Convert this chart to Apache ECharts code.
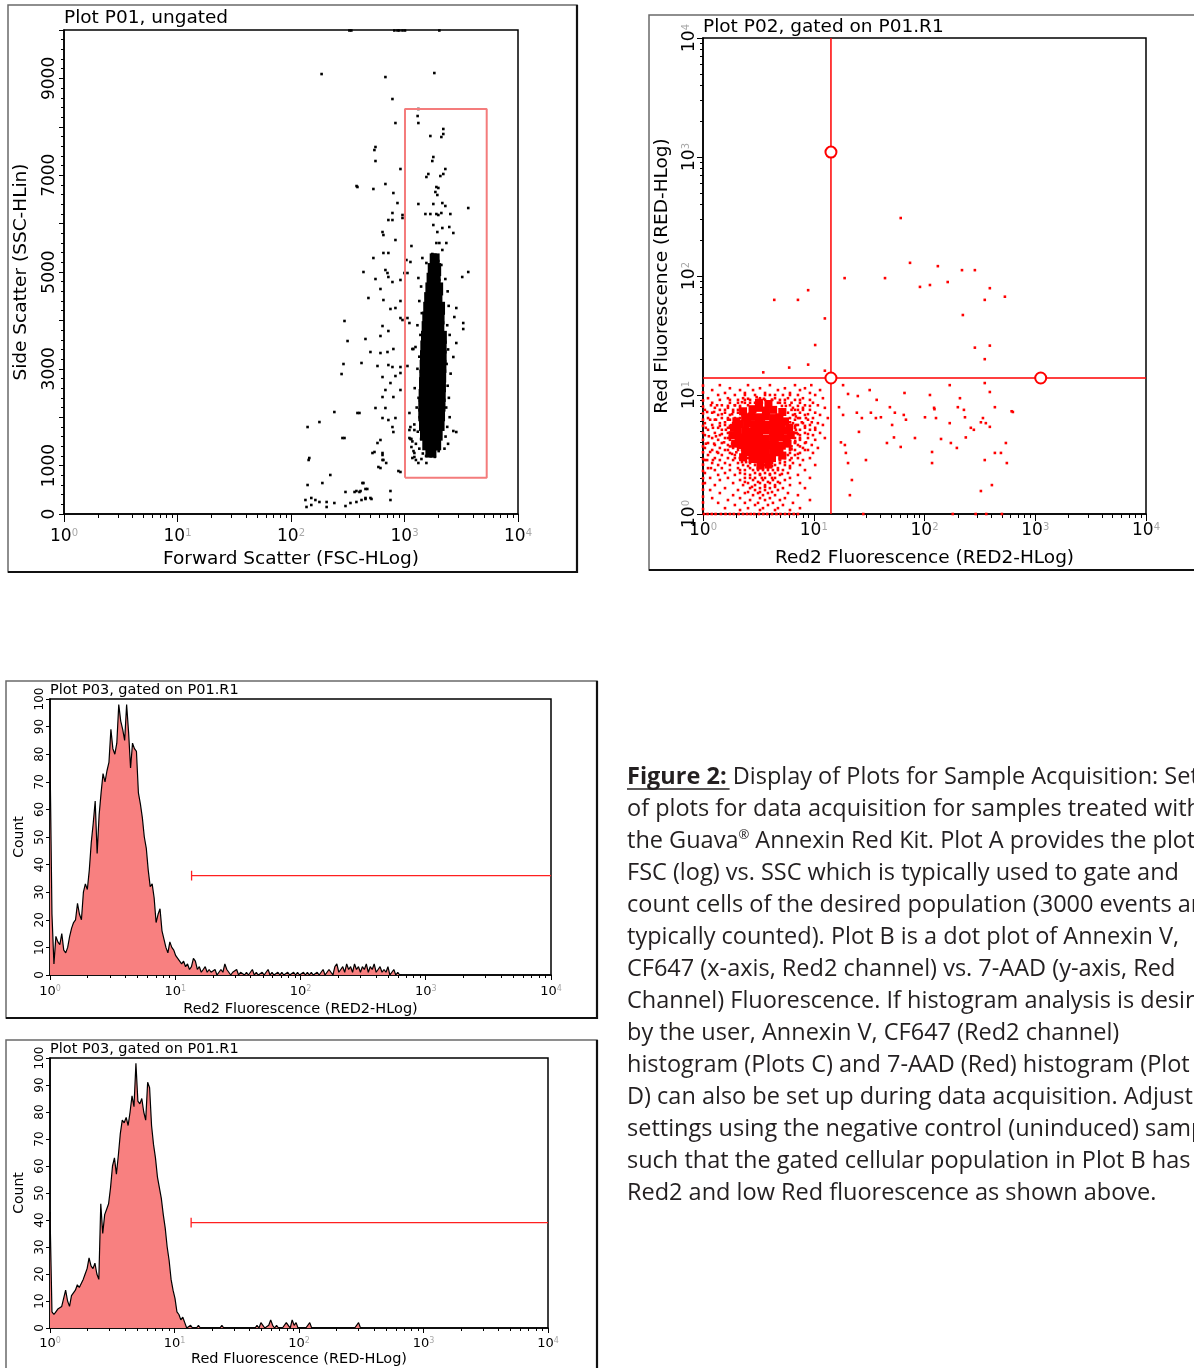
<!DOCTYPE html>
<html><head><meta charset="utf-8">
<script src="https://cdn.jsdelivr.net/npm/echarts@6/dist/echarts.min.js"></script>
<style>html,body{margin:0;padding:0;background:#fff;}#c{width:1194px;height:1368px;}</style>
</head><body><div id="c"></div>
<script>
// ---------------- DATA ----------------
// Plot A: FSC (log) vs SSC (lin); dense core of events (drawn with larger marks)
const FSC_SSC_CORE = [
[1790,5250],[1900,5250],
[1720,5050],[1850,5050],[1960,5050],
[1680,4850],[1810,4850],[1940,4850],
[1640,4650],[1770,4650],[1900,4650],[2040,4650],
[1600,4450],[1730,4450],[1870,4450],[2010,4450],
[1570,4250],[1700,4250],[1840,4250],[1990,4250],[2120,4250],
[1540,4050],[1670,4050],[1810,4050],[1960,4050],[2100,4050],
[1520,3850],[1650,3850],[1790,3850],[1940,3850],[2090,3850],
[1500,3650],[1630,3650],[1770,3650],[1920,3650],[2070,3650],[2200,3650],
[1480,3450],[1610,3450],[1750,3450],[1900,3450],[2050,3450],[2190,3450],
[1470,3250],[1600,3250],[1740,3250],[1890,3250],[2040,3250],[2190,3250],
[1460,3050],[1590,3050],[1730,3050],[1880,3050],[2030,3050],[2180,3050],
[1450,2850],[1580,2850],[1720,2850],[1870,2850],[2020,2850],[2170,2850],
[1440,2650],[1570,2650],[1710,2650],[1860,2650],[2010,2650],[2160,2650],
[1430,2450],[1560,2450],[1700,2450],[1850,2450],[2000,2450],[2150,2450],
[1420,2250],[1550,2250],[1690,2250],[1840,2250],[1990,2250],[2140,2250],
[1420,2050],[1550,2050],[1690,2050],[1840,2050],[1990,2050],[2120,2050],
[1440,1850],[1570,1850],[1710,1850],[1860,1850],[2000,1850],[2100,1850],
[1470,1650],[1600,1650],[1740,1650],[1890,1650],[2020,1650],
[1540,1450],[1680,1450],[1830,1450],[1960,1450],
[1640,1300],[1780,1300]
];
// Plot A: individual events
const FSC_SSC_DOTS = [
[1325,8368],[1305,8223],[1325,8078],[1690,7810],[2198,7955],[2198,7851],[2112,7789],[1795,7376],[1758,7293],[2290,7128],[2198,7025],[2070,6983],[1622,7025],[1559,6963],[1909,6756],[1987,6736],[1871,6653],[1947,6591],[1325,6405],[1795,6405],[2155,6425],[2290,6364],[3645,6322],[1528,6198],[1690,6198],[1909,6198],[1987,6178],[2112,6219],[2535,6198],[1795,5971],[2155,5909],[2480,5930],[1947,5826],[2693,5806],[1909,5599],[2028,5599],[2155,5455],[2337,5599],[1758,5372],[1151,5537],[1040,5248],[1128,5207],[1437,5289],[1559,5186],[1871,5145],[2112,5145],[1987,5227],[998,4979],[1062,4979],[1325,4876],[1656,4835],[2028,4835],[2290,4855],[3226,4897],[3645,5000],
[2860,4256],[2748,4070],[3293,3946],[3293,3822],[2860,3533],[2693,3244],[2693,1715],[2860,1694],
[2400,4600],[2450,4300],[2380,3900],[2500,3700],[2420,3400],[2350,3100],[2550,2900],[2400,2650],[2460,2400],[2330,2200],[2500,2000],[2380,1800],[2300,1600],[2420,1450],[2250,1350],
[1400,4700],[1350,4400],[1420,4150],[1300,3900],[1380,3700],[1250,3450],[1350,3250],[1300,3000],[1380,2800],[1230,2600],[1330,2400],[1280,2200],[1360,2000],[1220,1850],[1310,1700],[1400,1550],[1260,1450],[1350,1350],[1450,1250],[1550,1200],[1700,1230],[1850,1180],[2000,1300],[1200,1300],[1150,1550],
[1062,4049],[1105,3946],[1197,3409],[1173,3409],[1062,3058],[1222,1735],[1105,1735],[1151,1384],[1222,1178],[1410,1136],[1559,1054],
[1105,2087],[1128,1797],[1105,1570],[1128,1550],[1173,1500],[1222,1260],[1173,1157],[1260,1116],[1325,1054],
[783,8574],[832,8078],[555,7583],[555,7293],[921,7128],[385,6756],[532,6715],[679,6818],[798,6632],[867,6425],[783,6219],[721,6074],[783,6074],[960,6178],[960,6116],[640,5826],[652,5764],[832,5661],[652,5393],[721,5393],[532,5289],[435,5000],[679,5041],[708,4979],[555,4855],[721,4897],[783,4793],[921,4835],[614,4649],[481,4463],[652,4421],[921,4401],[752,4236],[832,4256],[921,4049],[960,4008],[640,3884],[721,3781],[453,3616],[614,3678],[296,3988],[315,3574],[501,3347],[614,3326],[708,3347],[798,3409],[418,3120],[578,3058],[721,3078],[783,3037],[921,3037],[290,3099],[279,2892],[640,2830],[832,2851],[921,2913],[752,2706],[679,2562],[640,2417],[798,2417],[921,2562],[555,2190],[679,2190],[640,1983],[721,1942],[783,1797],[832,1983],[284,1570],[385,2087],[614,1529],[578,1467],[522,1260],[640,1260],[652,1116],[589,971],[884,888],[798,1694],
[186,9090],[679,9028],[1832,9111],[378,6776],[543,7520],
[327,9990],[340,9990],[814,9990],[867,9990],[900,9990],[960,9990],[1010,9990],[2028,9990],
[140,1797],[178,1900],[241,2107],[401,2087],[296,1570],[145,1157],[143,1116],[544,1281],[640,1219],[640,1116],[690,1054],[614,950],[921,868],[222,806],[140,599],[189,640],[435,640],[302,455],[377,475],[410,475],[470,517],[752,475],[752,289],[134,289],[151,331],[164,289],[178,248],[206,248],[241,227],[137,145],[151,186],[206,145],[302,165],[334,227],[377,248],[418,289],[453,310],[512,310],[426,640],[363,455],[401,455],[453,517],[501,331],[453,331]
];
const GATE_R1 = [[1010,750],[5300,750],[5300,8370],[1010,8370],[1010,750]];
const SSC_LABELS = [0,1000,3000,5000,7000,9000];

// Plot B: Red2 (log) vs Red (log); densest part of the population
const RED2_RED_CORE = [
[2.8,7.6],[3.2,7.8],[3.7,7.4],[4.3,7.5],
[2.4,6.5],[2.75,6.6],[3.2,6.5],[3.7,6.6],[4.3,6.4],[4.9,6.5],
[2.15,5.7],[2.5,5.8],[2.9,5.7],[3.35,5.7],[3.85,5.6],[4.45,5.7],[5.1,5.6],
[2.05,5.0],[2.4,5.0],[2.75,4.95],[3.2,5.0],[3.7,5.05],[4.3,5.0],[4.95,4.95],[5.6,5.0],
[2.1,4.35],[2.4,4.4],[2.75,4.35],[3.2,4.35],[3.7,4.3],[4.3,4.35],[4.95,4.4],[5.7,4.3],
[2.2,3.8],[2.5,3.8],[2.9,3.75],[3.35,3.8],[3.85,3.8],[4.45,3.8],[5.15,3.75],
[2.4,3.3],[2.8,3.3],[3.2,3.3],[3.7,3.3],[4.3,3.35],[4.9,3.3],
[2.8,2.9],[3.25,2.9],[3.7,2.9],[4.2,2.95],
[2.0,6.0],[1.9,5.3],[1.85,4.6],[1.95,3.9],[5.5,6.0],[6.0,5.3],[6.2,4.6],[5.8,3.9],[2.3,7.3],[5.2,7.2],[2.3,3.0],[5.2,3.1],[3.2,8.6],[3.9,8.4],[3.3,2.55],[3.9,2.6]
];
const RED2_RED_DOTS = [
[1.42,12.1],[2.55,12.1],[4.02,12.1],[6.77,12.1],[9.5,12.1],
[1.75,11.4],[3.27,11.4],[5.49,11.4],[8.33,11.4],
[1.21,11],[2.16,11],[2.83,11],[4.75,11],[7.51,11],[11.4,11],
[1.58,10.4],[2.39,10.4],[3.63,10.4],[6.1,10.4],[9.24,10.4],
[1.37,10],[1.94,10],[2.95,10],[4.02,10],[5.27,10],[7.2,10],[10.3,10],
[1.11,9.4],[1.68,9.4],[2.3,9.4],[3.27,9.4],[4.47,9.4],[5.85,9.4],[7.99,9.4],[12.1,9.4],
[1.42,9.1],[2.07,9.1],[2.66,9.1],[3.63,9.1],[4.95,9.1],[6.77,9.1],[9.24,9.1],
[1.21,8.6],[1.75,8.6],[2.39,8.6],[2.95,8.6],[4.02,8.6],[5.49,8.6],[7.51,8.6],[9.84,8.6],
[1.48,8.2],[1.94,8.2],[2.55,8.2],[6.1,8.2],[8.33,8.2],[10.9,8.2],
[1.28,7.8],[1.68,7.8],[2.16,7.8],[6.49,7.8],[7.99,7.8],[12.6,7.8],
[1.04,7.5],[1.42,7.5],[1.87,7.5],[2.39,7.5],[5.49,7.5],[7.2,7.5],[9.24,7.5],
[1.21,7.1],[1.58,7.1],[2.07,7.1],[5.85,7.1],[7.51,7.1],[10.3,7.1],
[1.37,6.8],[1.75,6.8],[6.49,6.8],[8.33,6.8],[11.4,6.8],
[1.11,6.4],[1.48,6.4],[1.94,6.4],[6.1,6.4],[7.51,6.4],[9.84,6.4],[13.4,6.4],
[1.28,6.2],[1.68,6.2],[6.77,6.2],[8.87,6.2],
[1.04,5.8],[1.42,5.8],[1.87,5.8],[6.49,5.8],[7.99,5.8],[10.9,5.8],
[1.21,5.6],[1.58,5.6],[7.2,5.6],[9.24,5.6],[12.1,5.6],
[1.37,5.3],[1.75,5.3],[6.77,5.3],[8.33,5.3],[10.3,5.3],
[1.11,5.1],[1.48,5.1],[7.51,5.1],[9.24,5.1],
[1.28,4.8],[1.68,4.8],[6.77,4.8],[8.33,4.8],[11.4,4.8],
[1.04,4.6],[1.42,4.6],[7.51,4.6],[9.84,4.6],
[1.21,4.35],[1.58,4.35],[6.77,4.35],[8.87,4.35],[12.6,4.35],
[1.37,4.2],[1.75,4.2],[7.51,4.2],[10.3,4.2],
[1.11,3.95],[1.48,3.95],[1.87,3.95],[6.77,3.95],[8.33,3.95],
[1.28,3.8],[1.68,3.8],[7.2,3.8],[9.6,3.8],
[1.04,3.59],[1.42,3.59],[1.87,3.59],[6.1,3.59],[7.99,3.59],[10.9,3.59],
[1.21,3.45],[1.58,3.45],[2.07,3.45],[6.77,3.45],[8.87,3.45],
[1.37,3.26],[1.75,3.26],[2.3,3.26],[6.1,3.26],[7.51,3.26],[9.84,3.26],
[1.11,3.13],[1.48,3.13],[1.94,3.13],[5.49,3.13],[6.77,3.13],
[1.28,2.95],[1.68,2.95],[2.16,2.95],[2.55,2.95],[5.49,2.95],[7.2,2.95],[9.24,2.95],
[1.04,2.84],[1.42,2.84],[1.87,2.84],[2.39,2.84],[4.95,2.84],[6.1,2.84],[7.99,2.84],
[1.21,2.68],[1.58,2.68],[2.07,2.68],[2.66,2.68],[3.27,2.68],[4.02,2.68],[4.95,2.68],[6.49,2.68],
[1.37,2.58],[1.75,2.58],[2.3,2.58],[2.95,2.58],[3.63,2.58],[4.47,2.58],[5.49,2.58],[7.51,2.58],[10.3,2.58],
[1.11,2.43],[1.48,2.43],[2.07,2.43],[2.66,2.43],[3.14,2.43],[3.86,2.43],[4.75,2.43],[6.1,2.43],
[1.28,2.34],[1.75,2.34],[2.39,2.34],[2.83,2.34],[3.48,2.34],[4.28,2.34],[5.27,2.34],[8.33,2.34],
[1.04,2.21],[1.58,2.21],[2.16,2.21],[2.95,2.21],[3.63,2.21],[4.47,2.21],[5.85,2.21],
[1.37,2.13],[1.94,2.13],[2.66,2.13],[3.27,2.13],[4.02,2.13],[4.95,2.13],[7.2,2.13],
[1.16,2.01],[1.68,2.01],[2.39,2.01],[2.95,2.01],[3.63,2.01],[4.47,2.01],[6.1,2.01],[9.24,2.01],
[1.42,1.93],[2.16,1.93],[2.83,1.93],[3.48,1.93],[4.28,1.93],[5.49,1.93],
[1.04,1.82],[1.87,1.82],[2.55,1.82],[3.27,1.82],[4.02,1.82],[4.95,1.82],[7.51,1.82],
[1.28,1.75],[2.3,1.75],[2.95,1.75],[3.63,1.75],[4.47,1.75],[6.1,1.75],
[1.58,1.65],[2.66,1.65],[3.27,1.65],[4.02,1.65],[5.27,1.65],[8.33,1.65],
[1.16,1.59],[2.07,1.59],[2.95,1.59],[3.63,1.59],[4.75,1.59],
[1.42,1.5],[2.39,1.5],[3.14,1.5],[3.86,1.5],[5.85,1.5],
[1.87,1.44],[2.83,1.44],[3.48,1.44],[4.47,1.44],[7.2,1.44],
[1.21,1.36],[2.16,1.36],[3.27,1.36],[4.02,1.36],[5.49,1.36],
[1.68,1.31],[2.66,1.31],[3.63,1.31],[4.95,1.31],[9.24,1.31],
[1.37,1.24],[2.39,1.24],[3.14,1.24],[4.28,1.24],[6.49,1.24],
[1.94,1.19],[2.95,1.19],[3.86,1.19],[5.27,1.19],
[1.58,1.12],[2.55,1.12],[3.48,1.12],[4.75,1.12],[7.51,1.12],
[2.16,1.08],[3.27,1.08],[4.47,1.08],[6.1,1.08],
[1.94,8.2],[2.25,8.7],[2.55,9.3],[3.05,9.6],[3.55,9.3],[4.2,9.1],[4.95,8.6],[5.6,8.1],[6.3,7.5],[6.9,6.6],[1.87,7.2],[1.75,6.2],[1.68,5.3],[1.75,4.5],[1.83,3.9],[2.0,3.3],[2.16,2.95],[2.45,2.73],[6.9,5.6],[7.0,4.8],[6.8,4.1],[6.3,3.5],[5.85,3.13],[4.95,2.84],[4.2,2.68],[3.55,2.58],
[2.39,10],[3.63,10],[4.47,10],[6.1,10],
[1.75,9.1],[2.39,9.1],[3.14,9.1],[4.2,9.1],[5.49,9.1],[7.51,9.1],
[2.07,8.6],[2.66,8.6],[3.4,8.6],[4.75,8.6],[6.3,8.6],
[1.68,8.1],[2.16,8.1],[4.02,8.1],[5.16,8.1],[7.2,8.1],[9.24,8.1],
[1.58,7.5],[2.07,7.5],[6.77,7.5],[7.99,7.5],
[1.48,6.9],[1.83,6.9],[2.25,6.9],[6.77,6.9],[8.87,6.9],
[1.68,6.4],[2.16,6.4],[7.2,6.4],[8.5,6.4],
[1.58,5.9],[1.98,5.9],[6.1,5.9],[7.8,5.9],[9.6,5.9],
[1.42,5.5],[1.75,5.5],[6.77,5.5],[8.33,5.5],
[1.61,5.1],[1.9,5.1],[6.9,5.1],[10.3,5.1],
[1.48,4.7],[1.83,4.7],[7.2,4.7],[8.87,4.7],
[1.68,4.35],[1.98,4.35],[7.51,4.35],
[1.55,4.0],[1.9,4.0],[6.77,4.0],[8.5,4.0],
[1.75,3.7],[2.07,3.7],[6.3,3.7],[7.51,3.7],
[1.68,3.45],[2.25,3.45],[6.1,3.45],[8.33,3.45],
[1.83,3.2],[2.39,3.2],[5.49,3.2],[7.2,3.2],
[1.94,2.95],[2.77,2.95],[4.95,2.95],[6.3,2.95],
[2.25,2.73],[2.95,2.73],[3.86,2.73],[5.49,2.73],
[2.55,2.53],[3.27,2.53],[4.2,2.53],[6.1,2.53],
[2.16,2.34],[3.14,2.34],[3.86,2.34],[4.75,2.34],
[2.39,2.17],[3.27,2.17],[4.02,2.17],[5.16,2.17],
[2.66,2.01],[3.4,2.01],[4.2,2.01],
[2.39,1.86],[3.14,1.86],[3.86,1.86],[4.75,1.86],
[2.77,1.69],[3.63,1.69],[4.47,1.69],
[2.55,1.53],[3.27,1.53],[4.2,1.53],
[1.18,8.2],[1.34,8.2],[1.09,7.2],[1.26,7.2],[1.16,6.2],[1.31,6.2],[1.06,5.3],[1.23,5.3],[1.13,4.5],[1.31,4.5],[1.06,3.9],[1.26,3.9],[1.16,3.32],[1.34,3.32],[1.09,2.84],[1.23,2.84],[1.18,2.43],
[1.02,1],[1.1,1],[1.2,1],[1.3,1],[1.45,1],[1.6,1],[1.75,1],[1.9,1],[2.1,1],[2.3,1],[2.5,1],[2.7,1],[2.9,1],[3.2,1],[3.5,1],[3.8,1],[4.2,1],[4.6,1],[5.0,1],[5.5,1],[6.0,1],[6.6,1],[7.2,1],[28,1],[180,1],[290,1],[361,1],[500,1],
[1,1.1],[1,1.25],[1,1.4],[1,1.6],[1,1.8],[1,2.0],[1,2.3],[1,2.6],[1,2.9],[1,3.3],[1,3.7],[1,4.2],[1,4.8],[1,5.5],[1,6.2],[1,7.0],[1,8.0],[1,9.0],[1,10.5],[1,12],
[16.9,7.9],[18.4,6.8],[17.6,4.0],[19.1,3.8],[19.5,3.26],[20.4,2.68],[22.1,1.93],[21.2,1.44],[25.6,4.9],[24.5,7.1],[27.2,6.4],[29.6,2.84],[32.8,7.1],[36.4,6.4],[40.4,6.5],[45.8,3.95],[48.7,7.9],[54,7.1],[65,6.8],[68,6.2],[51,5.6],[53,4.4],[61,3.66],[82,4.35],[101,6.5],[122,7.8],[127,6.4],[141,4.27],[117,3.32],[117,2.68],[169,5.8],[173,3.95],[196,3.59],[200,7.9],[227,7.5],[232,6.5],[236,4.4],[262,5.3],[279,5.1],[323,5.9],[337,6.4],[358,5.8],[432,7.9],[389,5.4],[543,3.95],[554,2.68],[490,3.26],[432,3.26],[350,2.84],[323,1.56],[406,1.75],[628,7.2],
[20.4,10.2],[25,9.8],[37,9.1],[66,10.4],[123,7.6],[209,9.4],[389,10.6],[612,7.3],[18.4,12.1],[32,11],[112,10],[169,12.1],[350,12.6],
[61,307],[74,129],[132,121],[218,112],[285,112],[44,96],[19,96],[91,81],[112,84],[162,89],[532,67],[389,79],[350,63],[222,47],[285,25],[389,26],[350,20],[4.4,63],[7.2,63],[8.9,76],[12.6,44],[10.3,26.3],[8.9,18],[12.6,16],[3.5,15.5],[6,17]
];
const QUAD_X = 14.3, QUAD_Y = 13.9;
const QUAD_HANDLES = [[14.3,1100],[14.3,13.9],[1120,13.9]];

// Plot C/D histograms: counts per channel (256 channels over 4 decades)
const COUNTS_RED2 = [
80,22,4,14,12,11,15,9,8,10,
14,17,19,20,26,22,20,30,33,31,
38,48,55,63,44,58,66,73,70,74,
77,89,82,80,84,98,92,89,85,98,
88,75,84,82,81,66,62,57,50,46,
38,32,33,28,19,22,24,16,13,10,
8,12,10,9,7,6,5,4,5,3,
4,2,3,6,5,2,3,1,2,3,
1,2,1,1,2,0,1,2,1,4,
2,1,0,1,1,2,0,1,1,0,
1,0,1,2,0,1,0,0,1,0,
1,2,0,1,0,0,1,0,1,0,
0,1,0,0,1,0,1,0,0,1,
0,1,0,1,0,0,1,0,1,2,
0,1,2,1,0,3,4,1,2,3,
1,4,2,3,1,4,2,3,1,3,
2,4,1,3,2,4,1,2,3,1,
2,1,3,0,1,2,0,1,0,0
];
const COUNTS_RED = [
43,6,5,6,7,7,8,8,14,10,
8,12,13,14,16,15,15,18,20,22,
26,23,22,24,20,18,46,35,42,44,
46,52,60,63,57,64,72,77,76,78,
75,80,86,82,98,84,83,85,80,77,
91,89,75,68,63,56,52,48,42,37,
30,25,18,14,11,6,5,3,4,2,
0,0,1,0,0,0,1,0,0,0,
0,0,0,0,0,0,0,0,1,0,
0,0,0,0,0,0,0,0,0,0,
0,0,0,0,0,0,1,0,2,1,
0,0,1,3,1,0,1,0,0,0,
0,2,1,0,3,1,2,0,0,0,
0,0,0,2,0,0,0,0,0,0,
0,0,0,0,0,0,0,0,0,0,
0,0,0,0,0,0,0,0,2,0,
0
];
const N_CHANNELS = 256;
const MARKER_RED2 = [[13.5,36],[10000,36]];
const MARKER_RED2_TICK = [[13.5,34.2],[13.5,37.8]];
const MARKER_RED = [[13.6,39],[10000,39]];
const MARKER_RED_TICK = [[13.6,37.2],[13.6,40.8]];

const DECADE_EXP = ['0','1','2','3','4'];
const CAPTION = [
 'of plots for data acquisition for samples treated with',
 'the Guava{r|®} Annexin Red Kit. Plot A provides the plot of',
 'FSC (log) vs. SSC which is typically used to gate and',
 'count cells of the desired population (3000 events are',
 'typically counted). Plot B is a dot plot of Annexin V,',
 'CF647 (x-axis, Red2 channel) vs. 7-AAD (y-axis, Red',
 'Channel) Fluorescence. If histogram analysis is desired',
 'by the user, Annexin V, CF647 (Red2 channel)',
 'histogram (Plots C) and 7-AAD (Red) histogram (Plot',
 'D) can also be set up during data acquisition. Adjust',
 'settings using the negative control (uninduced) sample',
 'such that the gated cellular population in Plot B has low',
 'Red2 and low Red fluorescence as shown above.'
];
const CAPTION_HEAD = 'Figure 2:';
const CAPTION_FIRST = ' Display of Plots for Sample Acquisition: Set up';

// ---------------- CHART ----------------
const F = 'DejaVu Sans';
const CF = 'Open Sans';
const CFS = 23.5;
const chart = echarts.init(document.getElementById('c'), null, {width:1194, height:1368});
const CHANNELS = Array.from({length:N_CHANNELS}, (_, i) => i);
const MINOR_LOG_POS = [];
for (let k = 0; k < 4; k++) for (let m = 2; m <= 9; m++) MINOR_LOG_POS.push(k + Math.log10(m));

function decadeFmt(v) { return '{b|10}{s|' + DECADE_EXP[Math.round(Math.log10(v))] + '}'; }
function decRich(big, small) {
  return { b:{fontFamily:F, fontSize:big, color:'#000'}, s:{fontFamily:F, fontSize:small, color:'#a8a8a8', verticalAlign:'top'} };
}
function logAxis(o) {
  return {
    type:'log', logBase:10, min:1, max:10000, gridIndex:o.grid, position:o.pos,
    axisLine:{show:true, onZero:false, lineStyle:{color:'#000', width:1.5}},
    axisTick:{show:true, length:o.tick, lineStyle:{color:'#000', width:1}},
    splitLine:{show:false}, minorTick:{show:false},
    axisLabel:{show:true, margin:o.margin, rotate:o.rotate || 0, formatter:decadeFmt, rich:decRich(o.big, o.small)},
    name:o.name, nameLocation:'middle', nameGap:o.gap, nameRotate:o.nameRotate || 0,
    nameTextStyle:{fontFamily:F, fontSize:o.nameSize, color:'#000'}, silent:true
  };
}
function minorAxis(grid, pos, len) {
  return { type:'value', min:0, max:4, gridIndex:grid, position:pos,
    axisLine:{show:false}, axisLabel:{show:false}, splitLine:{show:false},
    axisTick:{show:true, length:len, customValues:MINOR_LOG_POS, lineStyle:{color:'#000', width:1}} };
}
function countAxis(grid, gap) {
  return { type:'value', gridIndex:grid, min:0, max:100, interval:10, position:'left',
    axisLine:{show:true, onZero:false, lineStyle:{color:'#000', width:1.5}},
    axisTick:{show:true, length:4, lineStyle:{color:'#000'}}, splitLine:{show:false},
    axisLabel:{rotate:90, margin:4, fontFamily:F, fontSize:12, color:'#000'},
    name:'Count', nameLocation:'middle', nameGap:gap, nameRotate:90,
    nameTextStyle:{fontFamily:F, fontSize:14, color:'#000'} };
}
const gridBase = {show:true, borderColor:'#000', borderWidth:1.5, containLabel:false};

const option = {
  animation:false,
  backgroundColor:'#fff',
  grid:[
    Object.assign({left:64, top:30, width:454, height:484}, gridBase),
    Object.assign({left:703, top:38, width:443, height:476}, gridBase),
    Object.assign({left:50, top:699, width:501, height:276}, gridBase),
    Object.assign({left:50, top:1058, width:498, height:275}, gridBase)
  ],
  xAxis:[
    logAxis({grid:0, pos:'bottom', tick:8, margin:14, big:17, small:10, name:'Forward Scatter (FSC-HLog)', gap:36, nameSize:18.5}),
    minorAxis(0, 'bottom', 4),
    logAxis({grid:1, pos:'bottom', tick:7, margin:8, big:17, small:10, name:'Red2 Fluorescence (RED2-HLog)', gap:35, nameSize:18.5}),
    minorAxis(1, 'bottom', 4),
    logAxis({grid:2, pos:'bottom', tick:5, margin:10, big:13, small:8, name:'Red2 Fluorescence (RED2-HLog)', gap:27, nameSize:14.5}),
    minorAxis(2, 'bottom', 3),
    {type:'category', gridIndex:2, data:CHANNELS, boundaryGap:false, show:false, position:'bottom'},
    logAxis({grid:3, pos:'bottom', tick:5, margin:9, big:13, small:8, name:'Red Fluorescence (RED-HLog)', gap:24, nameSize:14.5}),
    minorAxis(3, 'bottom', 3),
    {type:'category', gridIndex:3, data:CHANNELS, boundaryGap:false, show:false, position:'bottom'}
  ],
  yAxis:[
    { type:'value', gridIndex:0, min:0, max:10000, interval:1000, position:'left',
      axisLine:{show:true, onZero:false, lineStyle:{color:'#000', width:1.5}},
      axisTick:{show:true, length:5, lineStyle:{color:'#000'}},
      minorTick:{show:true, splitNumber:5, length:3, lineStyle:{color:'#000'}},
      splitLine:{show:false}, minorSplitLine:{show:false},
      axisLabel:{rotate:90, margin:6, fontFamily:F, fontSize:17, color:'#000',
        formatter:v => SSC_LABELS.indexOf(v) >= 0 ? String(v) : ''},
      name:'Side Scatter (SSC-HLin)', nameLocation:'middle', nameGap:33, nameRotate:90,
      nameTextStyle:{fontFamily:F, fontSize:18.5, color:'#000'} },
    logAxis({grid:1, pos:'left', tick:6, margin:5, rotate:90, big:17, small:10, name:'Red Fluorescence (RED-HLog)', gap:31, nameSize:18.5, nameRotate:90}),
    minorAxis(1, 'left', 3),
    countAxis(2, 24),
    countAxis(3, 24)
  ],
  series:[
    {type:'scatter', xAxisIndex:0, yAxisIndex:0, data:FSC_SSC_CORE, symbol:'rect', symbolSize:[7,13], itemStyle:{color:'#000', opacity:1}, silent:true, clip:false},
    {type:'scatter', xAxisIndex:0, yAxisIndex:0, data:FSC_SSC_DOTS, symbol:'rect', symbolSize:2.6, itemStyle:{color:'#000', opacity:1}, silent:true, clip:false},
    {type:'line', xAxisIndex:0, yAxisIndex:0, data:GATE_R1, symbol:'none', lineStyle:{color:'#f47c7c', width:2}, silent:true, z:4},
    {type:'scatter', xAxisIndex:2, yAxisIndex:1, data:RED2_RED_DOTS, symbol:'rect', symbolSize:2.6, itemStyle:{color:'#ff0000', opacity:1}, silent:true, clip:false},
    {type:'scatter', xAxisIndex:2, yAxisIndex:1, data:RED2_RED_CORE, symbol:'rect', symbolSize:8, itemStyle:{color:'#ff0000', opacity:1}, silent:true, clip:false},
    {type:'line', xAxisIndex:2, yAxisIndex:1, data:[[QUAD_X,1],[QUAD_X,10000]], symbol:'none', lineStyle:{color:'#ff0000', width:1.5}, silent:true, z:4},
    {type:'line', xAxisIndex:2, yAxisIndex:1, data:[[1,QUAD_Y],[10000,QUAD_Y]], symbol:'none', lineStyle:{color:'#ff0000', width:1.5}, silent:true, z:4},
    {type:'scatter', xAxisIndex:2, yAxisIndex:1, data:QUAD_HANDLES, symbol:'emptyCircle', symbolSize:11, itemStyle:{color:'#ff0000', borderColor:'#ff0000', borderWidth:1.5, opacity:1}, silent:true, z:5},
    {type:'line', xAxisIndex:6, yAxisIndex:3, data:COUNTS_RED2, symbol:'none', lineStyle:{color:'#000', width:1.2}, areaStyle:{color:'#f88080', opacity:1}, silent:true},
    {type:'line', xAxisIndex:4, yAxisIndex:3, data:MARKER_RED2, symbol:'none', lineStyle:{color:'#ff2020', width:1.3}, silent:true},
    {type:'line', xAxisIndex:4, yAxisIndex:3, data:MARKER_RED2_TICK, symbol:'none', lineStyle:{color:'#ff2020', width:1.3}, silent:true},
    {type:'line', xAxisIndex:9, yAxisIndex:4, data:COUNTS_RED, symbol:'none', lineStyle:{color:'#000', width:1.2}, areaStyle:{color:'#f88080', opacity:1}, silent:true},
    {type:'line', xAxisIndex:7, yAxisIndex:4, data:MARKER_RED, symbol:'none', lineStyle:{color:'#ff2020', width:1.3}, silent:true},
    {type:'line', xAxisIndex:7, yAxisIndex:4, data:MARKER_RED_TICK, symbol:'none', lineStyle:{color:'#ff2020', width:1.3}, silent:true}
  ],
  graphic:[]
};

// panel frames
const frames = [[8,5,569,567],[649,15,570,555],[6,681,591,337],[6,1040,591,340]];
frames.forEach(f => {
  option.graphic.push({type:'rect', shape:{x:f[0], y:f[1], width:f[2], height:f[3]}, style:{fill:'none', stroke:'#6a6a6a', lineWidth:1.5}, silent:true, z:-1});
  option.graphic.push({type:'polyline', shape:{points:[[f[0]+f[2], f[1]], [f[0]+f[2], f[1]+f[3]], [f[0], f[1]+f[3]]]}, style:{fill:'none', stroke:'#111', lineWidth:2.2}, silent:true, z:-1});
});
// titles
const titles = [['Plot P01, ungated',64,18,18.5],['Plot P02, gated on P01.R1',703,27,18.5],['Plot P03, gated on P01.R1',50,690,14.5],['Plot P03, gated on P01.R1',50,1049,14.5]];
titles.forEach(t => option.graphic.push({type:'text', x:t[1], y:t[2], style:{text:t[0], fontFamily:F, fontSize:t[3], fill:'#000', align:'left', verticalAlign:'middle'}, silent:true}));
// caption
const capColor = '#231f20';
option.graphic.push({type:'text', x:627, y:777, style:{text:'{h|' + CAPTION_HEAD + '}' + CAPTION_FIRST, fontFamily:CF, fontSize:CFS, fill:capColor, align:'left', verticalAlign:'middle',
  rich:{h:{fontFamily:CF, fontSize:CFS, fontWeight:'bold', fill:capColor}}}, silent:true});
CAPTION.forEach((line, i) => option.graphic.push({type:'text', x:627, y:777 + 32 * (i + 1), style:{text:line, fontFamily:CF, fontSize:CFS, fill:capColor, align:'left', verticalAlign:'middle',
  rich:{r:{fontFamily:CF, fontSize:13, fill:capColor, verticalAlign:'top'}}}, silent:true}));
const mctx = document.createElement('canvas').getContext('2d');
mctx.font = 'bold ' + CFS + 'px "' + CF + '"';
const headW = mctx.measureText(CAPTION_HEAD).width;
option.graphic.push({type:'line', shape:{x1:627, y1:789, x2:627 + headW + 3, y2:789}, style:{stroke:capColor, lineWidth:1.6}, silent:true});

chart.setOption(option);
</script></body></html>
